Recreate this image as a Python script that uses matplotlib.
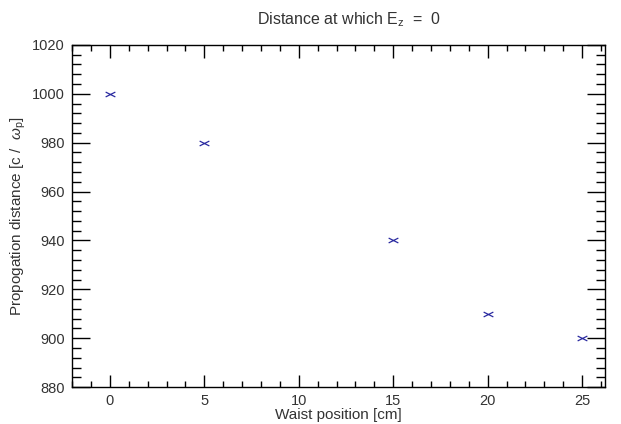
import matplotlib
matplotlib.use('Agg')
import matplotlib.pyplot as plt
from matplotlib.path import Path
from matplotlib.ticker import MultipleLocator

plt.rcParams['font.family'] = ['Liberation Sans', 'DejaVu Sans']
plt.rcParams['mathtext.fontset'] = 'custom'
plt.rcParams['mathtext.rm'] = 'Liberation Sans'
plt.rcParams['mathtext.it'] = 'Liberation Sans:italic'

waist_cm = [0, 5, 15, 20, 25]
distance = [1000, 980, 940, 910, 900]

# flattened cross, wider than it is tall
cross = Path([(-1, -0.5), (1, 0.5), (-1, 0.5), (1, -0.5)],
             [Path.MOVETO, Path.LINETO, Path.MOVETO, Path.LINETO])

fig = plt.figure(figsize=(6.21, 4.24), dpi=100)
ax = fig.add_axes([0.116, 0.087, 0.858, 0.807])

ax.plot(waist_cm, distance, linestyle='none', marker=cross, color='#2a2aa0',
        markersize=7, markeredgewidth=0.9)

ax.set_xlim(-2, 26.2)
ax.set_ylim(880, 1020)
ax.xaxis.set_major_locator(MultipleLocator(5))
ax.xaxis.set_minor_locator(MultipleLocator(1))
ax.yaxis.set_major_locator(MultipleLocator(20))
ax.yaxis.set_minor_locator(MultipleLocator(4))

txt = '#333333'
ax.tick_params(axis='both', which='both', direction='in', top=True, right=True,
               colors='black', labelcolor=txt, labelsize=10.5, width=1.0)
ax.tick_params(axis='y', which='major', length=13, pad=5)
ax.tick_params(axis='y', which='minor', length=6.5)
ax.tick_params(axis='x', which='major', length=9, pad=5)
ax.tick_params(axis='x', which='minor', length=4.5)
for s in ax.spines.values():
    s.set_linewidth(1.0)

ax.set_xlabel('Waist position [cm]', color=txt, fontsize=11, labelpad=0)
ax.set_ylabel(r'Propogation distance [c /  $\omega_{\rm p}$]', color=txt, fontsize=11, labelpad=3)
ax.set_title(r'Distance at which E$_{\rm z}$  =  0', color=txt, fontsize=11.5, pad=15, x=0.52)

fig.savefig('out.png', dpi=100)
